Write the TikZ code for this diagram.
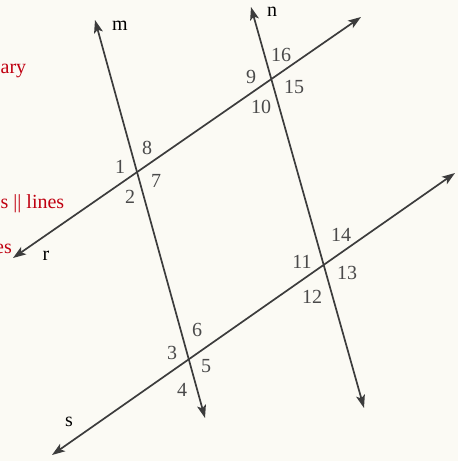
\documentclass[tikz,border=0pt]{standalone}
\usepackage{fontspec}
\setmainfont{Liberation Serif}
\usetikzlibrary{arrows.meta}
\definecolor{paper}{HTML}{FBFAF4}
\definecolor{ink}{HTML}{3C3C3C}
\definecolor{numink}{HTML}{4A4A4A}
\definecolor{redink}{HTML}{C00010}
\tikzset{
  ln/.style={draw=ink, line width=1.7pt, {Stealth[length=13pt,width=9pt,inset=3pt]}-{Stealth[length=13pt,width=9pt,inset=3pt]}},
  num/.style={text=numink, font=\fontsize{20}{22}\selectfont, inner sep=0pt},
  lab/.style={text=black, font=\fontsize{20}{22}\selectfont, inner sep=0pt},
  red/.style={text=redink, font=\fontsize{20}{22}\selectfont, inner sep=0pt, anchor=base west}
}
\begin{document}
\begin{tikzpicture}[x=1pt,y=-1pt]
\fill[paper] (0,0) rectangle (458,461);
\useasboundingbox (0,0) rectangle (458,461);
% end points
\coordinate (mT) at (95,20);
\coordinate (mB) at (205,418);
\coordinate (nT) at (251,7);
\coordinate (nB) at (364,408);
\coordinate (rR) at (361,17);
\coordinate (rL) at (13,258);
\coordinate (sR) at (455,173);
\coordinate (sL) at (52,455);
% lines
\draw[ln] (mT) -- (mB);
\draw[ln] (nT) -- (nB);
\draw[ln] (rL) -- (rR);
\draw[ln] (sL) -- (sR);
% line labels
\node[lab] (Lm) at (120,26) {m};
\node[lab] (Ln) at (272,12) {n};
\node[lab] (Lr) at (46,256) {r};
\node[lab] (Ls) at (69,422) {s};
% angle numbers
\node[num] (a1) at (120,167) {1};
\node[num] (a2) at (130,197) {2};
\node[num] (a7) at (156,181) {7};
\node[num] (a8) at (147,148) {8};
\node[num] (a9) at (251,77) {9};
\node[num] (a10) at (261,107) {10};
\node[num] (a15) at (294,87) {15};
\node[num] (a16) at (281,55) {16};
\node[num] (a11) at (302,262) {11};
\node[num] (a12) at (312,297) {12};
\node[num] (a13) at (347,273) {13};
\node[num] (a14) at (341,235) {14};
\node[num] (a3) at (172,353) {3};
\node[num] (a4) at (182,390) {4};
\node[num] (a5) at (206,366) {5};
\node[num] (a6) at (197,330) {6};
% margin text (cut at the left edge, as in the page scan)
\node[red] (t1) at (0.5,73) {ary};
\node[red] (t2) at (0.5,208) {s || lines};
\node[red, anchor=base east] (t3) at (12,253) {es};
\end{tikzpicture}
\end{document}
